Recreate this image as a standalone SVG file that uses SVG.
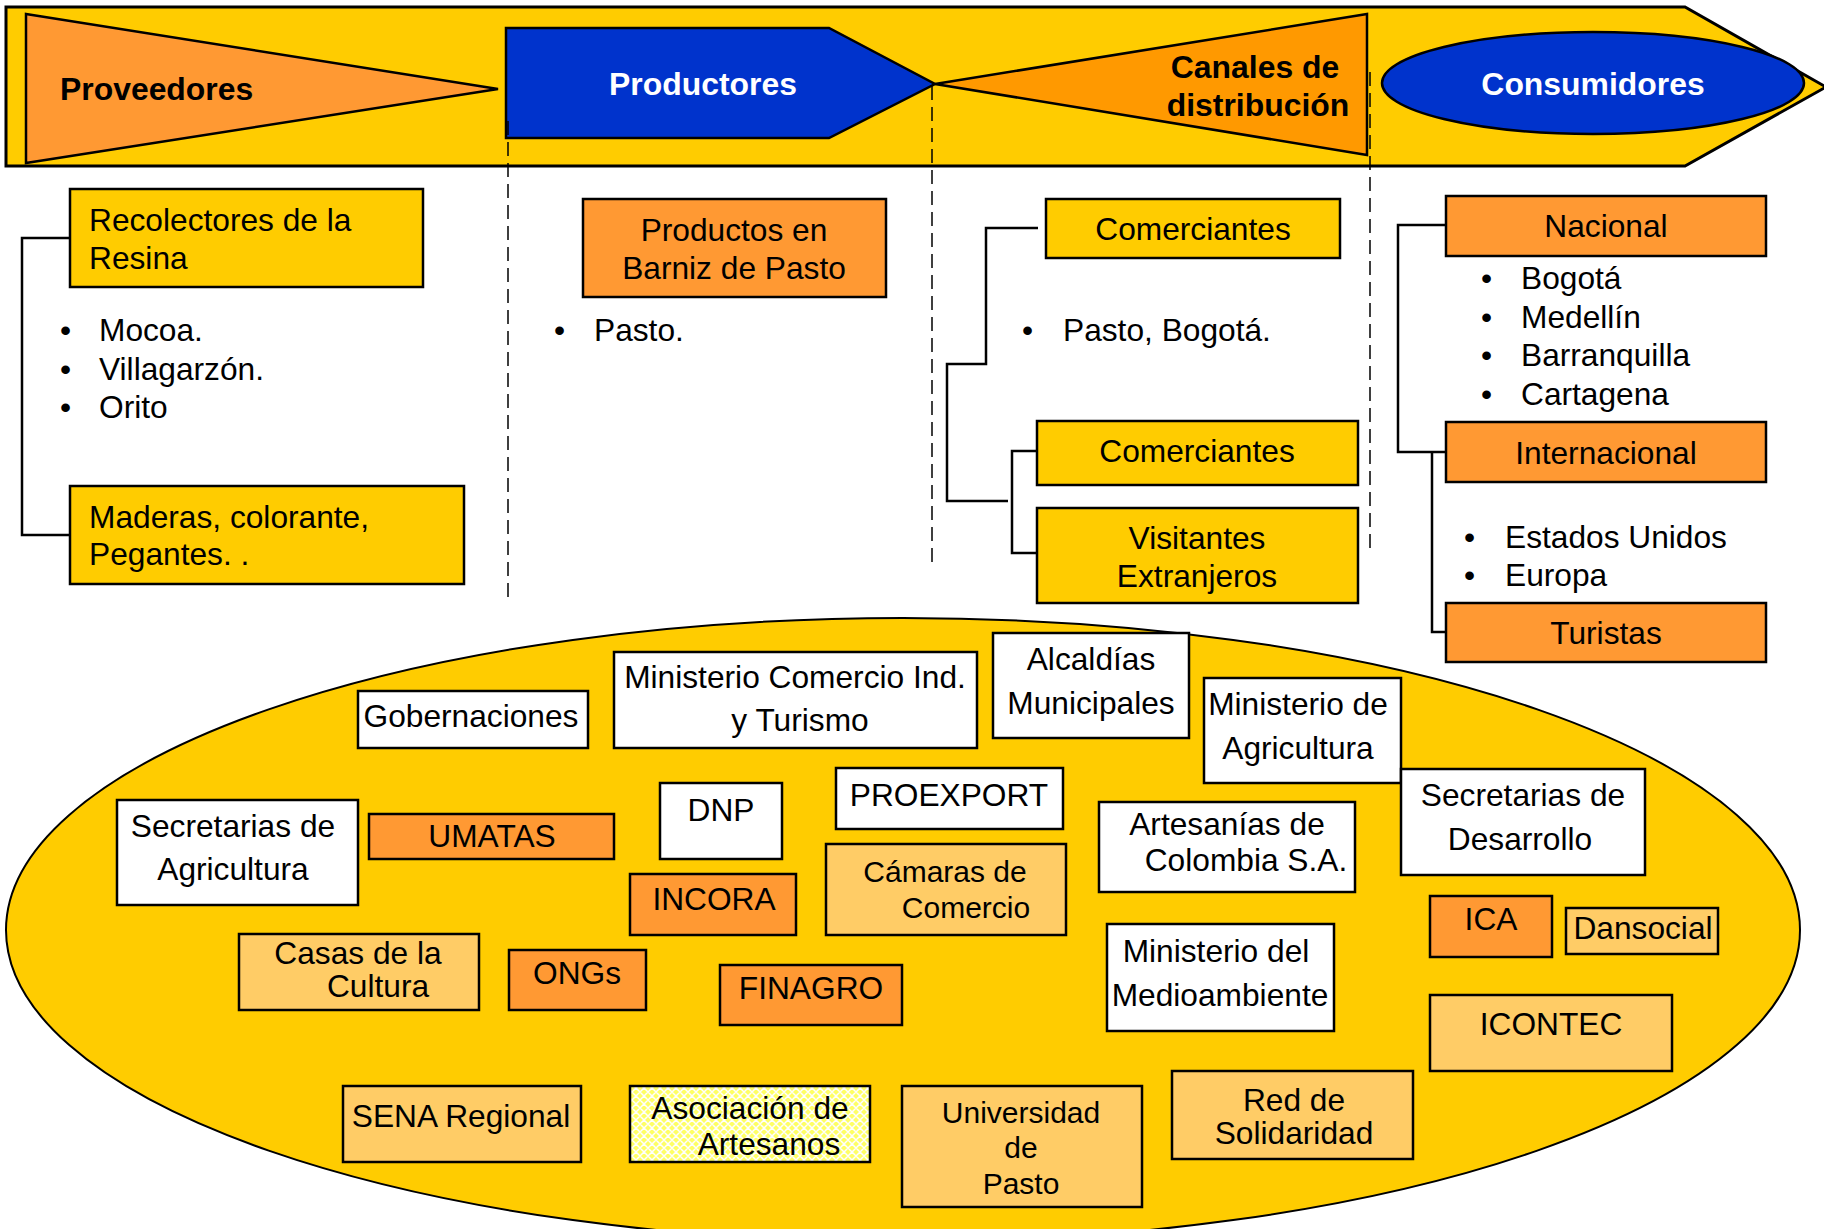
<svg xmlns="http://www.w3.org/2000/svg" width="1824" height="1229" viewBox="0 0 1824 1229">
<style>
text{font-family:"Liberation Sans",Arial,sans-serif;font-size:31.7px;fill:#000}
.h{font-weight:bold;font-size:31.9px}
.w{fill:#fff}
.m{text-anchor:middle}
.t{font-size:30px}
.bx{stroke:#000;stroke-width:2.5}
.y{fill:#FFCC00}
.o{fill:#FF9933}
.l{fill:#FFCC66}
.wh{fill:#fff}
.ln{fill:none;stroke:#000;stroke-width:2.5}
.ds{fill:none;stroke:#000;stroke-width:1.5;stroke-dasharray:14 7}
</style>
<defs>
<pattern id="lat" width="8" height="8" patternUnits="userSpaceOnUse">
<rect width="8" height="8" fill="#FFFF66"/>
<path d="M0 4L4 0L8 4L4 8Z" fill="none" stroke="#fff" stroke-width="1.5"/>
</pattern>
</defs>
<rect width="1824" height="1229" fill="#fff"/>
<g id="band">
<polygon points="6,7 1685,7 1826,87 1685,166 6,166" fill="#FFCC00" stroke="#000" stroke-width="3"/>
</g>
<g id="proveedores">
<polygon points="26,14 498,89 26,163" fill="#FF9933" stroke="#000" stroke-width="2.5"/>
<text class="h" x="60" y="100">Proveedores</text>
</g>
<g id="productores">
<polygon points="506,28 829,28 935,84 829,138 506,138" fill="#0033CC" stroke="#000" stroke-width="2.5"/>
<text class="h w m" x="703" y="95">Productores</text>
</g>
<g id="canales">
<polygon points="935,84 1367,14 1367,155" fill="#FF9900" stroke="#000" stroke-width="2.5"/>
<text class="h m" x="1255" y="78">Canales de</text>
<text class="h m" x="1258" y="116">distribución</text>
</g>
<g id="consumidores">
<ellipse cx="1593" cy="83" rx="211" ry="51" fill="#0033CC" stroke="#000" stroke-width="2.5"/>
<text class="h w m" x="1593" y="95">Consumidores</text>
</g>
<g id="connectors">
<line class="ds" x1="508" y1="121" x2="508" y2="599"/>
<line class="ds" x1="932" y1="86" x2="932" y2="566"/>
<line class="ds" x1="1370" y1="72" x2="1370" y2="550"/>
<polyline class="ln" points="70,238 22,238 22,535 70,535"/>
<polyline class="ln" points="1038,228 986,228 986,364 947,364 947,501 1008,501"/>
<polyline class="ln" points="1037,451 1012,451 1012,553 1037,553"/>
<polyline class="ln" points="1446,225 1398,225 1398,452 1446,452"/>
<polyline class="ln" points="1432,452 1432,632 1446,632"/>
</g>
<g id="recolectores">
<rect class="bx y" x="70" y="189" width="353" height="98"/>
<text x="89" y="231">Recolectores de la</text>
<text x="89" y="269">Resina</text>
</g>
<g id="lista-proveedores">
<text x="60" y="341">•</text><text x="99" y="341">Mocoa.</text>
<text x="60" y="380">•</text><text x="99" y="380">Villagarzón.</text>
<text x="60" y="418">•</text><text x="99" y="418">Orito</text>
</g>
<g id="maderas">
<rect class="bx y" x="70" y="486" width="394" height="98"/>
<text x="89" y="528">Maderas, colorante,</text>
<text x="89" y="565">Pegantes. .</text>
</g>
<g id="productos">
<rect class="bx o" x="583" y="199" width="303" height="98"/>
<text class="m" x="734" y="241">Productos en</text>
<text class="m" x="734" y="279">Barniz de Pasto</text>
</g>
<g id="lista-productores">
<text x="554" y="341">•</text><text x="594" y="341">Pasto.</text>
</g>
<g id="comerciantes1">
<rect class="bx y" x="1046" y="199" width="294" height="59"/>
<text class="m" x="1193" y="240">Comerciantes</text>
</g>
<g id="lista-canales">
<text x="1022" y="341">•</text><text x="1063" y="341">Pasto, Bogotá.</text>
</g>
<g id="comerciantes2">
<rect class="bx y" x="1037" y="421" width="321" height="64"/>
<text class="m" x="1197" y="462">Comerciantes</text>
</g>
<g id="visitantes">
<rect class="bx y" x="1037" y="508" width="321" height="95"/>
<text class="m" x="1197" y="549">Visitantes</text>
<text class="m" x="1197" y="587">Extranjeros</text>
</g>
<g id="nacional">
<rect class="bx o" x="1446" y="196" width="320" height="60"/>
<text class="m" x="1606" y="237">Nacional</text>
</g>
<g id="lista-nacional">
<text x="1481" y="289">•</text><text x="1521" y="289">Bogotá</text>
<text x="1481" y="328">•</text><text x="1521" y="328">Medellín</text>
<text x="1481" y="366">•</text><text x="1521" y="366">Barranquilla</text>
<text x="1481" y="405">•</text><text x="1521" y="405">Cartagena</text>
</g>
<g id="internacional">
<rect class="bx o" x="1446" y="422" width="320" height="60"/>
<text class="m" x="1606" y="464">Internacional</text>
</g>
<g id="lista-internacional">
<text x="1464" y="548">•</text><text x="1505" y="548">Estados Unidos</text>
<text x="1464" y="586">•</text><text x="1505" y="586">Europa</text>
</g>
<g id="turistas">
<rect class="bx o" x="1446" y="603" width="320" height="59"/>
<text class="m" x="1606" y="644">Turistas</text>
</g>
<g id="entorno">
<ellipse cx="903" cy="930" rx="897" ry="312" fill="#FFCC00" stroke="#000" stroke-width="2"/>
</g>
<g id="gobernaciones">
<rect class="bx wh" x="358" y="691" width="230" height="57"/>
<text class="m" x="471" y="727">Gobernaciones</text>
</g>
<g id="mincomercio">
<rect class="bx wh" x="614" y="652" width="363" height="96"/>
<text class="m" x="795" y="688">Ministerio Comercio Ind.</text>
<text class="m" x="800" y="731">y Turismo</text>
</g>
<g id="alcaldias">
<rect class="bx wh" x="993" y="633" width="196" height="105"/>
<text class="m" x="1091" y="670">Alcaldías</text>
<text class="m" x="1091" y="714">Municipales</text>
</g>
<g id="minagricultura">
<rect class="bx wh" x="1204" y="678" width="197" height="105"/>
<text class="m" x="1298" y="715">Ministerio de</text>
<text class="m" x="1298" y="759">Agricultura</text>
</g>
<g id="secdesarrollo">
<rect class="bx wh" x="1401" y="769" width="244" height="106"/>
<text class="m" x="1523" y="806">Secretarias de</text>
<text class="m" x="1520" y="850">Desarrollo</text>
</g>
<g id="secagricultura">
<rect class="bx wh" x="117" y="800" width="241" height="105"/>
<text class="m" x="233" y="837">Secretarias de</text>
<text class="m" x="233" y="880">Agricultura</text>
</g>
<g id="umatas">
<rect class="bx o" x="369" y="814" width="245" height="45"/>
<text class="m" x="492" y="847">UMATAS</text>
</g>
<g id="dnp">
<rect class="bx wh" x="660" y="783" width="122" height="76"/>
<text class="m" x="721" y="821">DNP</text>
</g>
<g id="proexport">
<rect class="bx wh" x="836" y="768" width="227" height="61"/>
<text class="m" x="949" y="806">PROEXPORT</text>
</g>
<g id="artesanias">
<rect class="bx wh" x="1099" y="802" width="256" height="90"/>
<text class="m" x="1227" y="835">Artesanías de</text>
<text class="m" x="1246" y="871">Colombia S.A.</text>
</g>
<g id="incora">
<rect class="bx o" x="630" y="874" width="166" height="61"/>
<text class="m" x="714" y="910">INCORA</text>
</g>
<g id="camaras">
<rect class="bx l" x="826" y="844" width="240" height="91"/>
<text class="m t" x="945" y="882">Cámaras de</text>
<text class="m t" x="966" y="918">Comercio</text>
</g>
<g id="ica">
<rect class="bx o" x="1430" y="896" width="122" height="61"/>
<text class="m" x="1491" y="930">ICA</text>
</g>
<g id="dansocial">
<rect class="bx l" x="1566" y="908" width="152" height="46"/>
<text class="m" x="1643" y="939">Dansocial</text>
</g>
<g id="casas">
<rect class="bx l" x="239" y="934" width="240" height="76"/>
<text class="m" x="358" y="964">Casas de la</text>
<text class="m" x="378" y="997">Cultura</text>
</g>
<g id="ongs">
<rect class="bx o" x="509" y="950" width="137" height="60"/>
<text class="m" x="577" y="984">ONGs</text>
</g>
<g id="finagro">
<rect class="bx o" x="720" y="965" width="182" height="60"/>
<text class="m" x="811" y="999">FINAGRO</text>
</g>
<g id="minmedioambiente">
<rect class="bx wh" x="1107" y="924" width="227" height="107"/>
<text class="m" x="1216" y="962">Ministerio del</text>
<text class="m" x="1220" y="1006">Medioambiente</text>
</g>
<g id="icontec">
<rect class="bx l" x="1430" y="995" width="242" height="76"/>
<text class="m" x="1551" y="1035">ICONTEC</text>
</g>
<g id="sena">
<rect class="bx l" x="343" y="1086" width="238" height="76"/>
<text class="m" x="461" y="1127">SENA Regional</text>
</g>
<g id="asociacion">
<rect class="bx" x="630" y="1086" width="240" height="76" fill="url(#lat)"/>
<text class="m" x="750" y="1119">Asociación de</text>
<text class="m" x="769" y="1155">Artesanos</text>
</g>
<g id="universidad">
<rect class="bx l" x="902" y="1086" width="240" height="121"/>
<text class="m t" x="1021" y="1123">Universidad</text>
<text class="m t" x="1021" y="1158">de</text>
<text class="m t" x="1021" y="1194">Pasto</text>
</g>
<g id="red">
<rect class="bx l" x="1172" y="1071" width="241" height="88"/>
<text class="m" x="1294" y="1111">Red de</text>
<text class="m" x="1294" y="1144">Solidaridad</text>
</g>
</svg>
